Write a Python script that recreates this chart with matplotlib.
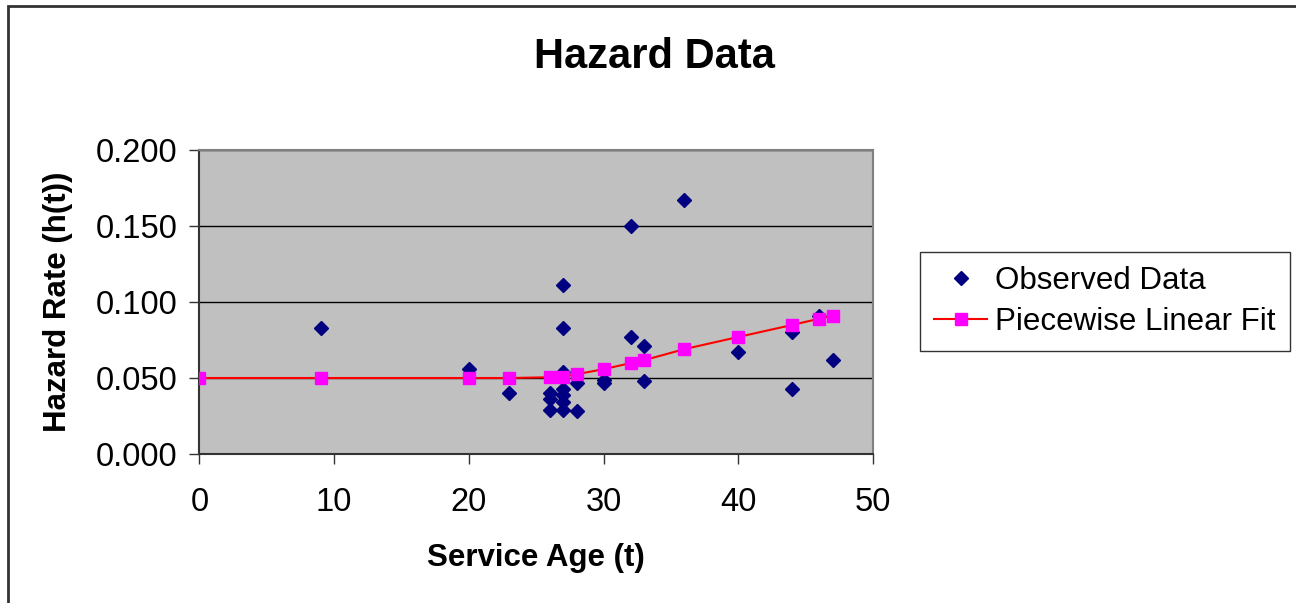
import matplotlib
matplotlib.use("Agg")
import matplotlib.pyplot as plt
from matplotlib.patches import Rectangle
from matplotlib.ticker import FormatStrFormatter

plt.rcParams["font.family"] = ["Liberation Sans", "DejaVu Sans"]

# observed hazard points
obs_age = [9, 20, 23, 26, 26, 26, 27, 27, 27, 27, 27, 27, 27, 28, 28,
           30, 30, 32, 32, 33, 33, 36, 40, 44, 44, 46, 47]
obs_rate = [0.083, 0.056, 0.040, 0.040, 0.036, 0.029, 0.111, 0.083, 0.054,
            0.043, 0.039, 0.034, 0.029, 0.047, 0.028, 0.049, 0.047, 0.150,
            0.077, 0.071, 0.048, 0.167, 0.067, 0.080, 0.043, 0.091, 0.062]

# piecewise linear fit
fit_age = [0, 9, 20, 23, 26, 27, 28, 30, 32, 33, 36, 40, 44, 46, 47]
fit_rate = [0.050, 0.050, 0.050, 0.050, 0.0505, 0.0508, 0.0525, 0.0558,
            0.0598, 0.0617, 0.0690, 0.0770, 0.0849, 0.0890, 0.0910]

x_ticks = [0, 10, 20, 30, 40, 50]
y_ticks = [0.0, 0.05, 0.10, 0.15, 0.20]

fig = plt.figure(figsize=(12.96, 6.03), dpi=100)
fig.patches.append(Rectangle((8 / 1296, -0.1), 1.2, 1 - 6 / 603 + 0.1,
                             transform=fig.transFigure, fill=False,
                             edgecolor="#333333", lw=2, zorder=0))

ax = fig.add_axes([0.1539, 0.2471, 0.5197, 0.5041])
ax.set_facecolor("#C0C0C0")

for y in y_ticks[1:]:
    ax.axhline(y, color="black", lw=1, zorder=1)

ax.plot(obs_age, obs_rate, linestyle="none", marker="D", markersize=7,
        color="#000080", label="Observed Data", zorder=3)
ax.plot(fit_age, fit_rate, color="#FF0000", lw=1.5, marker="s",
        markersize=9, markerfacecolor="#FF00FF", markeredgecolor="#FF00FF",
        label="Piecewise Linear Fit", zorder=4)

ax.set_xlim(0, 50)
ax.set_ylim(0, 0.2)
ax.set_xticks(x_ticks)
ax.set_yticks(y_ticks)
ax.yaxis.set_major_formatter(FormatStrFormatter("%.3f"))
ax.tick_params(axis="both", direction="out", length=7, width=1,
               labelsize=23.5, color="#333333")
ax.tick_params(axis="y", pad=9)
ax.tick_params(axis="x", pad=17)

for side in ("top", "right"):
    ax.spines[side].set_color("#808080")
    ax.spines[side].set_linewidth(1.5)
for side in ("left", "bottom"):
    ax.spines[side].set_color("#333333")
    ax.spines[side].set_linewidth(1.5)

ax.set_xlabel("Service Age (t)", fontsize=22.5, fontweight="bold", labelpad=18)
ax.set_ylabel("Hazard Rate (h(t))", fontsize=22.5, fontweight="bold", labelpad=16)
fig.text(0.505, 1 - 57 / 603, "Hazard Data", fontsize=30, fontweight="bold",
         ha="center", va="center")

leg = fig.legend(loc="center", bbox_to_anchor=(0.8526, 1 - 301.5 / 603),
                 fontsize=22.5, frameon=True, fancybox=False, handlelength=1.7,
                 borderpad=0.45, labelspacing=0.35, handletextpad=0.25,
                 borderaxespad=0)
leg.get_frame().set_edgecolor("black")
leg.get_frame().set_linewidth(1)

fig.savefig("out.png", dpi=100)
